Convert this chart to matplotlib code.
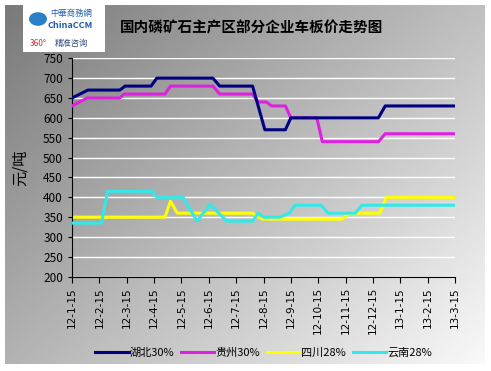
import matplotlib.pyplot as plt
import matplotlib.patches as mpatches
import numpy as np

plt.rcParams['font.family'] = ['Noto Sans CJK SC', 'DejaVu Sans']

# x in months from 12-1-15 (0) to 13-3-15 (14)
month_labels = ["12-1-15", "12-2-15", "12-3-15", "12-4-15", "12-5-15", "12-6-15",
                "12-7-15", "12-8-15", "12-9-15", "12-10-15", "12-11-15", "12-12-15",
                "13-1-15", "13-2-15", "13-3-15"]

hubei_x = [0, 0.58, 1.75, 1.94, 2.89, 3.1, 5.15, 5.4, 6.6, 7.05, 7.8, 8.0, 11.2, 11.45, 14]
hubei_y = [650, 670, 670, 680, 680, 700, 700, 680, 680, 570, 570, 600, 600, 630, 630]

guizhou_x = [0, 0.55, 1.75, 1.9, 3.4, 3.6, 5.15, 5.4, 6.6, 6.8, 7.1, 7.3, 7.8, 8.0,
             8.95, 9.15, 11.2, 11.45, 14]
guizhou_y = [630, 650, 650, 660, 660, 680, 680, 660, 660, 640, 640, 630, 630, 600,
             600, 540, 540, 560, 560]

sichuan_x = [0, 3.4, 3.6, 3.85, 6.6, 6.95, 9.87, 10.15, 11.25, 11.5, 14]
sichuan_y = [350, 350, 390, 360, 360, 345, 345, 360, 360, 400, 400]

yunnan_x = [0, 1.08, 1.3, 2.92, 3.1, 4.06, 4.57, 5.05, 5.66, 6.6, 6.8, 7.0, 7.6, 7.8,
            7.95, 8.15, 9.1, 9.36, 10.35, 10.6, 14]
yunnan_y = [335, 335, 415, 415, 400, 400, 340, 382, 340, 340, 360, 350, 350, 356,
            360, 380, 380, 360, 360, 380, 380]

W, H = 491, 371
fig = plt.figure(figsize=(W / 100, H / 100), dpi=100)
fig.patch.set_facecolor('white')

# gradient background panel: dark top-left -> light bottom-right
bg = fig.add_axes([5 / W, 7 / H, 480 / W, 359 / H])
gx, gy = np.meshgrid(np.linspace(0, 1, 200), np.linspace(0, 1, 200))
grad = 0.55 * gx + 0.45 * gy
bg.imshow(grad, cmap='gray', vmin=-0.95, vmax=1.05, aspect='auto', extent=[0, 1, 0, 1])
bg.set_axis_off()

# logo
fig.patches.append(mpatches.Rectangle((23 / W, (H - 52) / H), 82 / W, 47 / H,
                                      transform=fig.transFigure, facecolor='white',
                                      edgecolor='none', zorder=2))
fig.patches.append(mpatches.Circle((38 / W, (H - 19) / H), 9 / W, transform=fig.transFigure,
                                   facecolor='#2a7fc8', edgecolor='none', zorder=3))
fig.text(50 / W, (H - 13) / H, "中華商務網", fontsize=6, color='#2060b0', va='center', zorder=4)
fig.text(48 / W, (H - 25) / H, "ChinaCCM", fontsize=6.5, color='#1a5aa8', weight='bold',
         va='center', zorder=4)
fig.text(30 / W, (H - 43) / H, "360°", fontsize=6, color='#d03030', va='center', zorder=4)
fig.text(55 / W, (H - 43) / H, "精准咨询", fontsize=6, color='#305080', va='center', zorder=4)

fig.text(120 / W, (H - 28) / H, "国内磷矿石主产区部分企业车板价走势图", fontsize=10.5,
         weight='bold', va='center', ha='left')

ax = fig.add_axes([72 / W, (H - 276.7) / H, 383 / W, 218.4 / H])
ax.patch.set_alpha(0)

ax.plot(hubei_x, hubei_y, color='#000080', lw=2.2, label="湖北30%", zorder=4)
ax.plot(guizhou_x, guizhou_y, color='#e020e0', lw=2.2, label="贵州30%", zorder=3)
ax.plot(sichuan_x, sichuan_y, color='#ffff00', lw=2.2, label="四川28%", zorder=2)
ax.plot(yunnan_x, yunnan_y, color='#33e8e8', lw=2.2, label="云南28%", zorder=3)

ax.set_xlim(0, 14)
ax.set_ylim(200, 750)
ax.set_yticks(range(200, 751, 50))
ax.yaxis.grid(True, color='white', lw=1)
ax.set_axisbelow(True)
ax.set_xticks(range(15))
ax.set_xticklabels(month_labels, rotation=90, fontsize=7.5, family='DejaVu Sans')
ax.tick_params(axis='y', labelsize=8.5, length=3)
ax.tick_params(axis='x', length=4)
for s in ['top', 'right']:
    ax.spines[s].set_visible(False)
ax.set_ylabel("元/吨", fontsize=11, labelpad=10)

ax.legend(loc='upper center', bbox_to_anchor=(0.5, -0.28), ncol=4, frameon=False,
          fontsize=8, handlelength=3, handletextpad=0.1, columnspacing=0.6)

fig.savefig("out.png", dpi=100)
